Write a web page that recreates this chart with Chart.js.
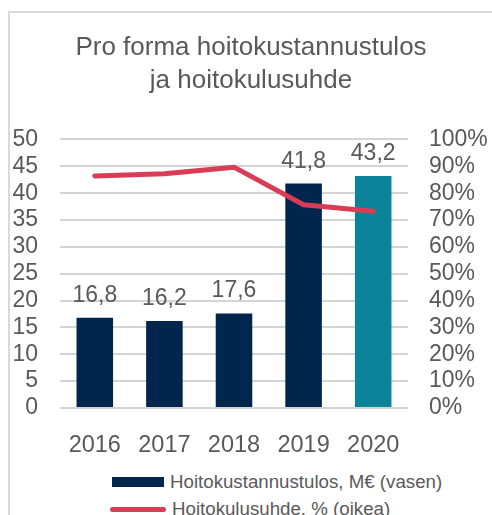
<!DOCTYPE html>
<html>
<head>
<meta charset="utf-8">
<script src="https://cdn.jsdelivr.net/npm/chart.js@4"></script>
<style>
  html, body { margin: 0; padding: 0; background: #fff; overflow: hidden; }
  body { width: 492px; height: 515px; position: relative; font-family: "Liberation Sans", Arial, sans-serif; color: #595959; }
  #kehys { position: absolute; left: 8px; top: 11px; width: 600px; height: 600px; border-left: 2px solid #d9d9d9; border-top: 2px solid #d9d9d9; }
  #kaavio { position: absolute; left: 8px; top: 0; }
  .selite { position: absolute; left: 110px; height: 26px; line-height: 26px; font-size: 18.7px; white-space: nowrap; }
  .selite span { display: inline-block; vertical-align: middle; margin-right: 6px; }
  .laatikko { width: 52px; height: 10px; margin-left: 2px; }
  .viiva { width: 56px; height: 5px; border-radius: 3px; }
</style>
</head>
<body>
<div id="kehys"></div>
<canvas id="kaavio" width="484" height="460"></canvas>
<div class="selite" style="top:468px"><span class="laatikko" id="selite1"></span><span id="selite1teksti"></span></div>
<div class="selite" style="top:495px"><span class="viiva" id="selite2"></span><span id="selite2teksti"></span></div>

<script>
// Data kaaviota varten
var vuodet = ["2016", "2017", "2018", "2019", "2020"];
var tulos = [16.8, 16.2, 17.6, 41.8, 43.2];          // M€ (vasen akseli)
var kulusuhde = [86.4, 87.2, 89.7, 75.7, 73.3];      // % (oikea akseli)
var nimi_tulos = "Hoitokustannustulos, M€ (vasen)";
var nimi_suhde = "Hoitokulusuhde, % (oikea)";
var otsikko = ["Pro forma hoitokustannustulos", "ja hoitokulusuhde"];

var tumma = "#00264d";
var turkoosi = "#0b8399";
var punainen = "#d93d56";
var harmaa = "#595959";
var fontti = '"Liberation Sans", Arial, sans-serif';

var palkkien_varit = tulos.map((v, i) => i === tulos.length - 1 ? turkoosi : tumma);

// Arvot palkkien päälle (pilkku desimaalierottimena)
var arvoPlugin = {
    id: 'arvot',
    afterDatasetsDraw(chart) {
        var ctx = chart.ctx;
        var meta = chart.getDatasetMeta(0);
        ctx.save();
        ctx.font = '23px ' + fontti;
        ctx.fillStyle = harmaa;
        ctx.textAlign = 'center';
        ctx.textBaseline = 'alphabetic';
        meta.data.forEach((palkki, i) => {
            ctx.fillText(tulos[i].toFixed(1).replace('.', ','), palkki.x, palkki.y - 16);
        });
        ctx.restore();
    }
};

// Selite tehdään HTML:nä, jotta rivit alkavat samasta kohdasta
document.getElementById('selite1').style.background = tumma;
document.getElementById('selite2').style.background = punainen;
document.getElementById('selite1teksti').textContent = nimi_tulos;
document.getElementById('selite2teksti').textContent = nimi_suhde;

var ctx = document.getElementById('kaavio').getContext('2d');
new Chart(ctx, {
    type: 'bar',
    data: {
        labels: vuodet,
        datasets: [{
            type: 'bar',
            label: nimi_tulos,
            data: tulos,
            backgroundColor: palkkien_varit,
            yAxisID: 'y',
            order: 2,
            barPercentage: 0.525,
            categoryPercentage: 1
        }, {
            type: 'line',
            label: nimi_suhde,
            data: kulusuhde,
            borderColor: punainen,
            backgroundColor: punainen,
            borderWidth: 5,
            borderCapStyle: 'round',
            borderJoinStyle: 'round',
            pointRadius: 0,
            tension: 0,
            yAxisID: 'y1',
            order: 1
        }]
    },
    options: {
        responsive: false,
        animation: false,
        layout: { padding: { left: 4, right: 2, top: 0, bottom: 8 } },
        plugins: {
            legend: { display: false },
            tooltip: { enabled: false },
            title: {
                display: true,
                text: otsikko,
                color: harmaa,
                font: { family: fontti, size: 26, weight: 'normal', lineHeight: 1.24 },
                padding: { top: 32, bottom: 43 }
            }
        },
        scales: {
            x: {
                grid: { display: false },
                border: { display: false },
                afterFit: s => { s.height = 44; },
                ticks: {
                    color: harmaa,
                    padding: 15,
                    font: { family: fontti, size: 23.5 }
                }
            },
            y: {
                position: 'left',
                min: 0,
                max: 50,
                grid: { color: '#d4d4d4', lineWidth: 2, drawTicks: false },
                border: { display: false },
                afterFit: s => { s.width = 48; },
                ticks: {
                    stepSize: 5,
                    autoSkip: false,
                    color: harmaa,
                    padding: 22,
                    font: { family: fontti, size: 23 }
                }
            },
            y1: {
                position: 'right',
                min: 0,
                max: 100,
                grid: { display: false, drawTicks: false },
                border: { display: false },
                afterFit: s => { s.width = 82; },
                ticks: {
                    stepSize: 10,
                    autoSkip: false,
                    color: harmaa,
                    padding: 21,
                    callback: v => v + '%',
                    font: { family: fontti, size: 23 }
                }
            }
        }
    },
    plugins: [arvoPlugin]
});
</script>
</body>
</html>
